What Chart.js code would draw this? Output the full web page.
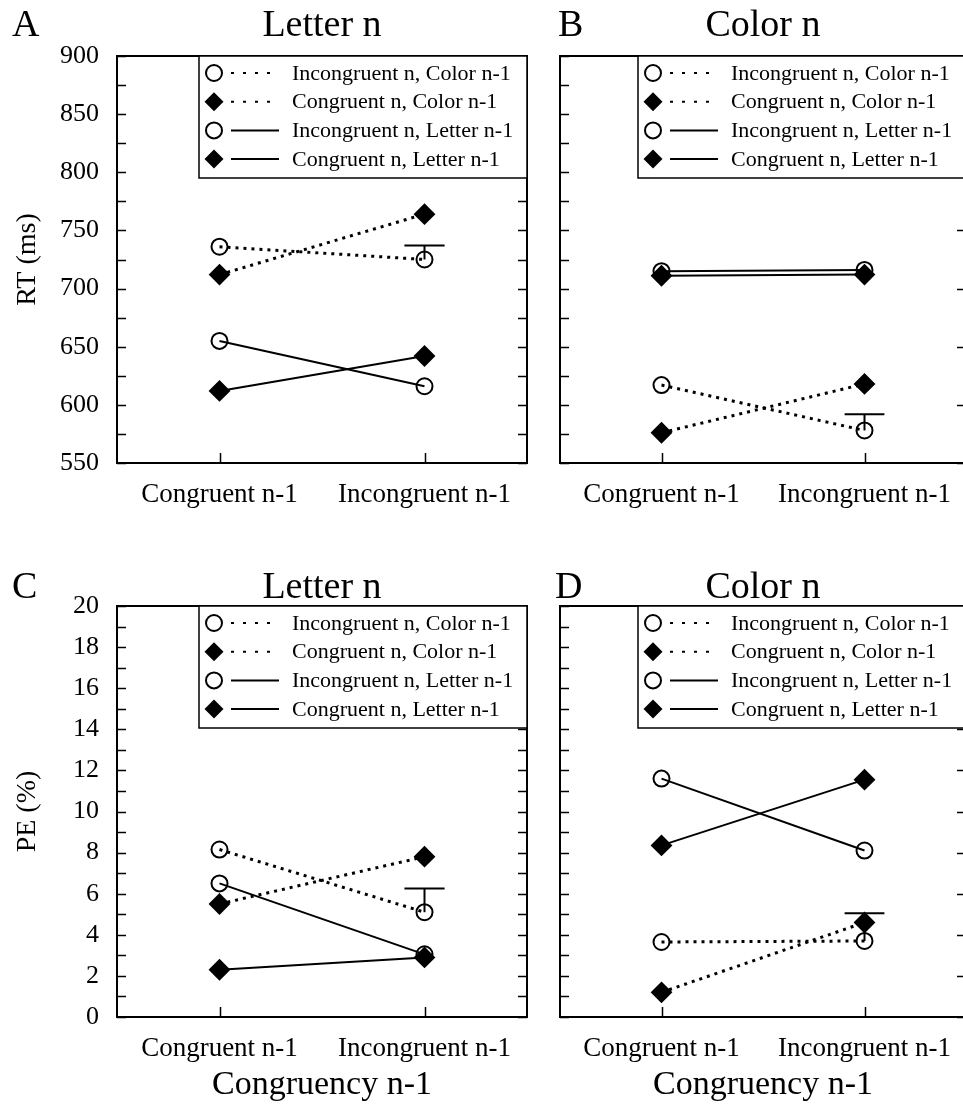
<!DOCTYPE html>
<html>
<head>
<meta charset="utf-8">
<script src="https://cdn.jsdelivr.net/npm/chart.js@4.4.0/dist/chart.umd.min.js"></script>
<style>
  body { margin: 0; width: 963px; height: 1110px; overflow: hidden; background: #fff; position: relative; }
  canvas { position: absolute; }
</style>
</head>
<body>
<canvas id="panelA" width="540" height="540" style="left:0;top:0"></canvas>
<canvas id="panelB" width="440" height="540" style="left:540px;top:0"></canvas>
<canvas id="panelC" width="540" height="555" style="left:0;top:555px"></canvas>
<canvas id="panelD" width="440" height="555" style="left:540px;top:555px"></canvas>
<script>
const FONT = "'Liberation Serif', 'Times New Roman', serif";

const conditions = ["Congruent n-1", "Incongruent n-1"];
const seriesNames = [
    "Incongruent n, Color n-1",
    "Congruent n, Color n-1",
    "Incongruent n, Letter n-1",
    "Congruent n, Letter n-1",
];

// RT (ms), Letter n
const rtLetterIncColor = [736, 725];
const rtLetterConColor = [712, 764];
const rtLetterIncLetter = [655, 616];
const rtLetterConLetter = [612, 642];
const rtLetterErrTop = 737;

// RT (ms), Color n
const rtColorIncColor = [617, 578];
const rtColorConColor = [576, 618];
const rtColorIncLetter = [715, 716];
const rtColorConLetter = [711, 712];
const rtColorErrTop = 592;

// PE (%), Letter n
const peLetterIncColor = [8.15, 5.1];
const peLetterConColor = [5.5, 7.8];
const peLetterIncLetter = [6.5, 3.05];
const peLetterConLetter = [2.3, 2.9];
const peLetterErrTop = 6.25;

// PE (%), Color n
const peColorIncColor = [3.65, 3.7];
const peColorConColor = [1.2, 4.6];
const peColorIncLetter = [11.6, 8.1];
const peColorConLetter = [8.35, 11.55];
const peColorErrTop = 5.05;

// estilo de cada serie: punteada o continua, círculo o rombo
const seriesStyles = [
    { dash: [3, 5], width: 3, point: "circle" },
    { dash: [3, 5], width: 3, point: "rectRot" },
    { dash: [], width: 2, point: "circle" },
    { dash: [], width: 2, point: "rectRot" },
];
const CAP_HALF = 0.098;

// marcas hacia dentro, marco, leyenda y textos
const panelDeco = {
    id: "panelDeco",
    afterDraw(chart, args, o) {
        const { ctx, chartArea: a } = chart;
        const ys = chart.scales.y;
        const xs = chart.scales.x;
        ctx.save();
        ctx.strokeStyle = "#000";
        ctx.fillStyle = "#000";

        ctx.lineWidth = 1.5;
        ctx.beginPath();
        ys.ticks.forEach((t) => {
            const py = Math.round(ys.getPixelForValue(t.value)) + 0.5;
            ctx.moveTo(a.left, py);
            ctx.lineTo(a.left + 9, py);
            if (o.rightMinor || t.value % o.major === 0) {
                ctx.moveTo(a.right, py);
                ctx.lineTo(a.right - 9, py);
            }
        });
        xs.ticks.forEach((t) => {
            const px = Math.round(xs.getPixelForValue(t.value)) + 0.5;
            ctx.moveTo(px, a.bottom);
            ctx.lineTo(px, a.bottom - 10);
        });
        ctx.stroke();

        ctx.lineWidth = 2;
        ctx.strokeRect(a.left, a.top, a.right - a.left, a.bottom - a.top);

        // leyenda
        const lx = a.right - 328;
        const ly = a.top;
        ctx.fillStyle = "#fff";
        ctx.fillRect(lx, ly, a.right - lx, 122);
        ctx.lineWidth = 1.5;
        ctx.strokeRect(lx, ly, a.right - lx, 122);
        ctx.font = "22px " + FONT;
        ctx.textBaseline = "middle";
        ctx.textAlign = "left";
        seriesNames.forEach((name, i) => {
            const st = seriesStyles[i];
            const cy = ly + 17 + i * 28.7;
            const mx = lx + 15;
            ctx.fillStyle = "#000";
            ctx.lineWidth = 2;
            ctx.setLineDash([]);
            ctx.beginPath();
            if (st.point === "circle") {
                ctx.arc(mx, cy, 8, 0, Math.PI * 2);
                ctx.stroke();
            } else {
                ctx.moveTo(mx - 9.5, cy);
                ctx.lineTo(mx, cy - 9.5);
                ctx.lineTo(mx + 9.5, cy);
                ctx.lineTo(mx, cy + 9.5);
                ctx.closePath();
                ctx.fill();
            }
            ctx.beginPath();
            ctx.setLineDash(st.dash.length ? [3, 9] : []);
            ctx.lineWidth = st.dash.length ? 2 : 2;
            ctx.moveTo(lx + 32, cy);
            ctx.lineTo(lx + 80, cy);
            ctx.stroke();
            ctx.setLineDash([]);
            ctx.fillText(name, lx + 93, cy + 1);
        });

        // letra del panel y título
        ctx.fillStyle = "#000";
        ctx.textBaseline = "alphabetic";
        ctx.font = "38px " + FONT;
        ctx.textAlign = "left";
        ctx.fillText(o.letter, o.letterX, o.titleY);
        ctx.textAlign = "center";
        ctx.fillText(o.title, (a.left + a.right) / 2, o.titleY);

        if (o.yTitle) {
            ctx.save();
            ctx.translate(28, (a.top + a.bottom) / 2);
            ctx.rotate(-Math.PI / 2);
            ctx.font = "28px " + FONT;
            ctx.textBaseline = "middle";
            ctx.fillText(o.yTitle, 0, 0);
            ctx.restore();
        }
        if (o.xTitle) {
            ctx.font = "34px " + FONT;
            ctx.textBaseline = "middle";
            ctx.fillText(o.xTitle, (a.left + a.right) / 2, a.bottom + 68);
        }
        ctx.restore();
    },
};

function makePanel(id, p) {
    const series = [p.incColor, p.conColor, p.incLetter, p.conLetter];
    const datasets = series.map((vals, i) => {
        const st = seriesStyles[i];
        return {
            label: seriesNames[i],
            data: vals.map((v, j) => ({ x: j + 1, y: v })),
            borderColor: "#000",
            borderWidth: st.width,
            borderDash: st.dash,
            pointStyle: st.point,
            pointRadius: st.point === "circle" ? 8 : 9.5,
            pointBorderWidth: 2,
            pointBorderColor: "#000",
            pointBackgroundColor: st.point === "circle" ? "rgba(0,0,0,0)" : "#000",
            tension: 0,
        };
    });
    // barra de error sobre el círculo punteado de Incongruent n-1
    datasets.push({
        label: "err",
        data: [{ x: 2, y: p.incColor[1] }, { x: 2, y: p.errTop }],
        borderColor: "#000",
        borderWidth: 2,
        pointRadius: 0,
    });
    datasets.push({
        label: "cap",
        data: [{ x: 2 - CAP_HALF, y: p.errTop }, { x: 2 + CAP_HALF, y: p.errTop }],
        borderColor: "#000",
        borderWidth: 2,
        pointRadius: 0,
    });

    return new Chart(document.getElementById(id), {
        type: "line",
        data: { datasets: datasets },
        options: {
            responsive: false,
            animation: false,
            devicePixelRatio: 1,
            layout: { padding: p.padding },
            plugins: {
                legend: { display: false },
                tooltip: { enabled: false },
                panelDeco: {
                    letter: p.letter,
                    letterX: p.letterX,
                    title: p.title,
                    titleY: p.titleY,
                    yTitle: p.yTitle,
                    xTitle: p.xTitle,
                    major: p.major,
                    rightMinor: p.rightMinor,
                },
            },
            scales: {
                x: {
                    type: "linear",
                    min: 0.5,
                    max: 2.5,
                    grid: { display: false, drawTicks: false },
                    border: { display: false },
                    afterBuildTicks: (s) => {
                        s.ticks = [{ value: 1 }, { value: 2 }];
                    },
                    afterFit: (s) => {
                        s.height = p.xHeight;
                    },
                    ticks: {
                        autoSkip: false,
                        maxRotation: 0,
                        padding: 16,
                        color: "#000",
                        font: { family: FONT, size: 27 },
                        callback: (v) => conditions[v - 1],
                    },
                },
                y: {
                    min: p.yMin,
                    max: p.yMax,
                    grid: { display: false, drawTicks: false },
                    border: { display: false },
                    afterFit: (s) => {
                        s.width = p.yWidth;
                    },
                    ticks: {
                        display: p.showY,
                        stepSize: p.step,
                        autoSkip: false,
                        padding: 18,
                        color: "#000",
                        font: { family: FONT, size: 26 },
                        callback: (v) => (v % p.major === 0 ? v : ""),
                    },
                },
            },
        },
        plugins: [panelDeco],
    });
}

makePanel("panelA", {
    letter: "A", letterX: 12, title: "Letter n", titleY: 36, yTitle: "RT (ms)",
    incColor: rtLetterIncColor, conColor: rtLetterConColor,
    incLetter: rtLetterIncLetter, conLetter: rtLetterConLetter, errTop: rtLetterErrTop,
    yMin: 550, yMax: 900, step: 25, major: 50, rightMinor: true, showY: true,
    padding: { top: 56, right: 13, bottom: 0, left: 0 }, yWidth: 117, xHeight: 77,
});
makePanel("panelB", {
    letter: "B", letterX: 18, title: "Color n", titleY: 36,
    incColor: rtColorIncColor, conColor: rtColorConColor,
    incLetter: rtColorIncLetter, conLetter: rtColorConLetter, errTop: rtColorErrTop,
    yMin: 550, yMax: 900, step: 25, major: 50, rightMinor: false, showY: false,
    padding: { top: 56, right: 14, bottom: 0, left: 0 }, yWidth: 20, xHeight: 77,
});
makePanel("panelC", {
    letter: "C", letterX: 12, title: "Letter n", titleY: 43, yTitle: "PE (%)", xTitle: "Congruency n-1",
    incColor: peLetterIncColor, conColor: peLetterConColor,
    incLetter: peLetterIncLetter, conLetter: peLetterConLetter, errTop: peLetterErrTop,
    yMin: 0, yMax: 20, step: 1, major: 2, rightMinor: true, showY: true,
    padding: { top: 51, right: 13, bottom: 0, left: 0 }, yWidth: 117, xHeight: 93,
});
makePanel("panelD", {
    letter: "D", letterX: 15, title: "Color n", titleY: 43, xTitle: "Congruency n-1",
    incColor: peColorIncColor, conColor: peColorConColor,
    incLetter: peColorIncLetter, conLetter: peColorConLetter, errTop: peColorErrTop,
    yMin: 0, yMax: 20, step: 1, major: 2, rightMinor: false, showY: false,
    padding: { top: 51, right: 14, bottom: 0, left: 0 }, yWidth: 20, xHeight: 93,
});
</script>
</body>
</html>
